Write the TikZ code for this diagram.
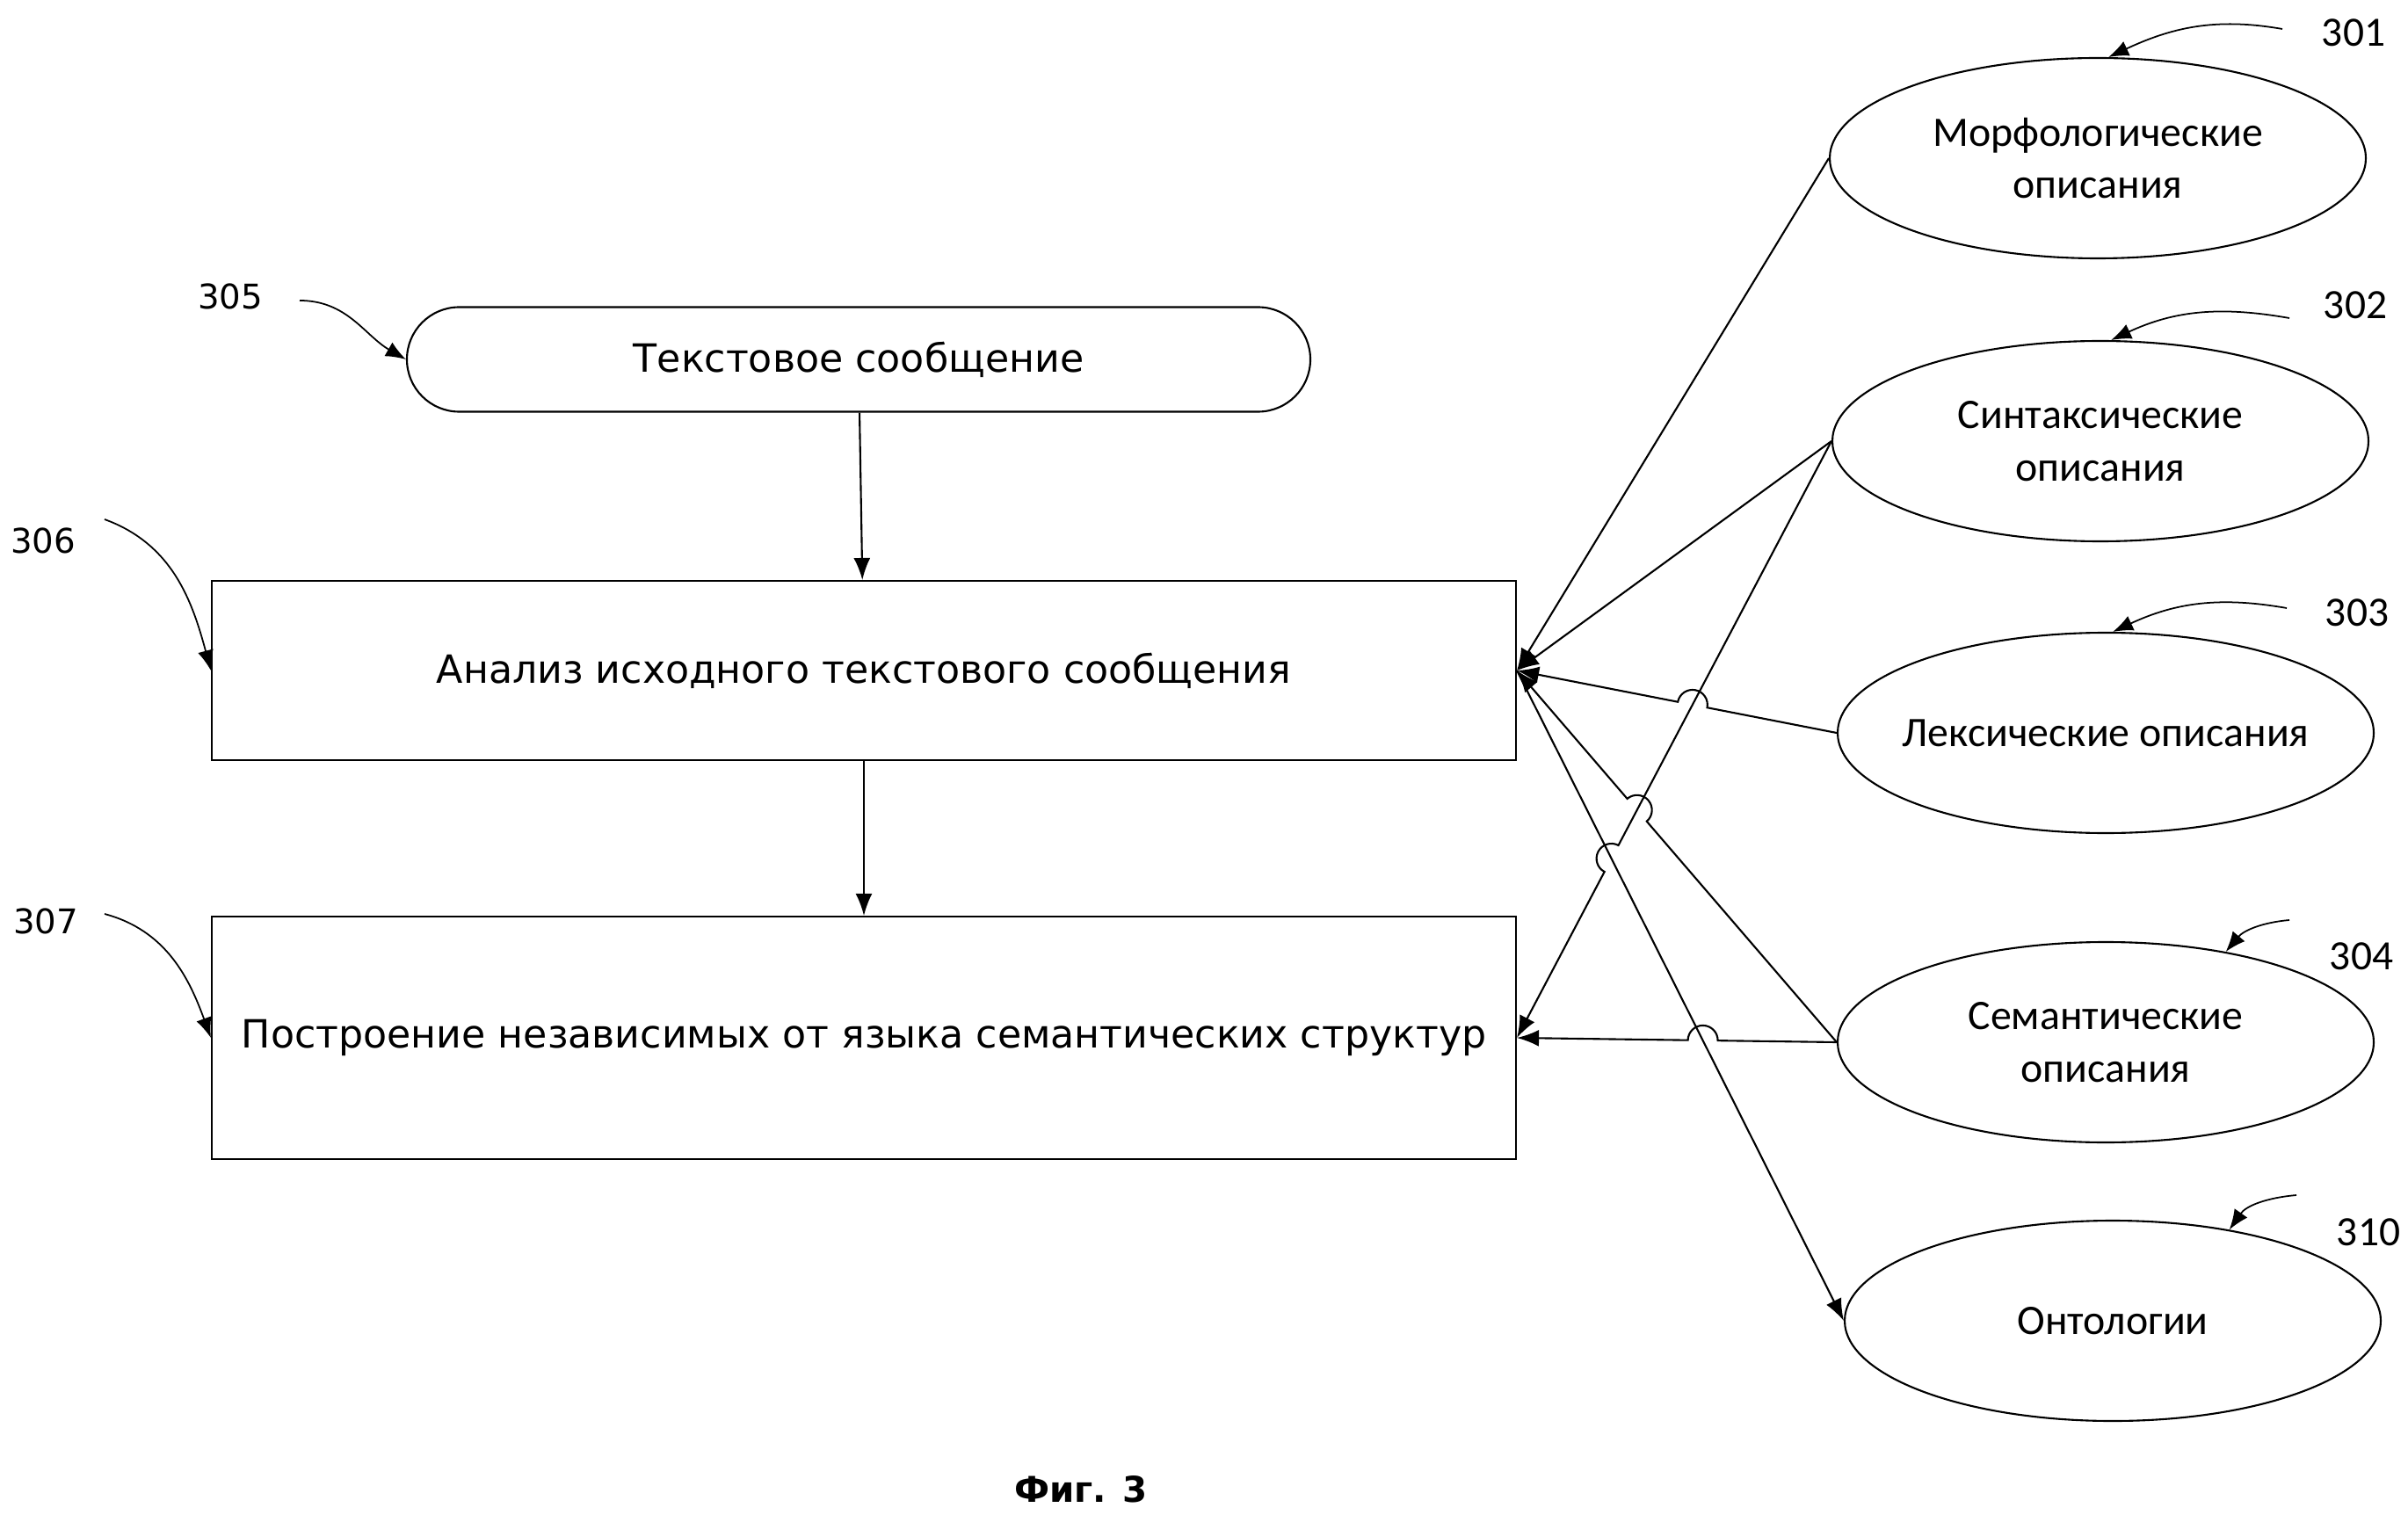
\documentclass[tikz,border=0pt]{standalone}
\usepackage{fontspec}
\setmainfont{DejaVu Sans}
\newfontfamily\calib{Carlito}
\usetikzlibrary{arrows.meta,positioning,shapes.geometric,calc,intersections}
\tikzset{
  ar/.style={-{Latex[length=2.5mm,width=1.9mm]},line width=0.6pt},
  lead/.style={-{Latex[length=2.3mm,width=1.8mm]},line width=0.5pt},
  blk/.style={draw,line width=0.6pt,minimum width=14.84cm,align=center,font=\fontsize{12.6}{15}\selectfont},
  src/.style={ellipse,draw,line width=0.6pt,minimum width=6.1cm,minimum height=2.28cm,inner sep=0pt,align=center,font=\calib\fontsize{13.6}{17}\selectfont},
  num/.style={font=\calib\fontsize{13.5}{16}\selectfont},
  lnum/.style={font=\fontsize{11}{13}\selectfont}
}
\newcommand{\jr}{0.17cm}
\begin{document}
\begin{tikzpicture}
\useasboundingbox (0,0) rectangle (27.4,-17.24);
% blocks
\node[blk,rounded corners=0.595cm,minimum width=10.28cm,minimum height=1.19cm] (b305) at (9.77,-4.09) {Текстовое сообщение};
\node[blk,minimum height=2.04cm] (b306) at (9.83,-7.63) {Анализ исходного текстового сообщения};
\node[blk,minimum height=2.76cm] (b307) at (9.83,-11.81) {Построение независимых от языка семантических структур};
% descriptions
\node[src] (s1) at (23.87,-1.80) {Морфологические\\описания};
\node[src] (s2) at (23.90,-5.02) {Синтаксические\\описания};
\node[src,inner xsep=-0.35cm] (s3) at (23.96,-8.34) {Лексические описания};
\node[src] (s4) at (23.96,-11.86) {Семантические\\описания};
\node[src] (s10) at (24.04,-15.03) {Онтологии};
% numbers
\node[lnum] (l305) at (2.62,-3.37) {305};
\node[lnum] (l306) at (0.49,-6.15) {306};
\node[lnum] (l307) at (0.52,-10.48) {307};
\node[num] (l301) at (26.78,-0.37) {301};
\node[num] (l302) at (26.80,-3.47) {302};
\node[num] (l303) at (26.82,-6.97) {303};
\node[num] (l304) at (26.87,-10.88) {304};
\node[num] (l310) at (26.95,-14.02) {310};
\node[font=\bfseries\fontsize{11.5}{14}\selectfont] (fig) at (12.30,-16.95) {Фиг. 3};
% leader starts
\coordinate (t305) at (3.41,-3.42);
\coordinate (t306) at (1.19,-5.91);
\coordinate (t307) at (1.19,-10.40);
\coordinate (t301) at (25.97,-0.33);
\coordinate (t302) at (26.05,-3.62);
\coordinate (t303) at (26.02,-6.92);
\coordinate (t304) at (26.05,-10.47);
\coordinate (t310) at (26.13,-13.60);
% leaders
\draw[lead] (t305) to[out=0,in=150] (b305.west);
\draw[lead] (t306) to[out=-20,in=105] (b306.west);
\draw[lead] (t307) to[out=-15,in=110] (b307.west);
\draw[lead] (t301) to[out=170,in=25] (s1.84);
\draw[lead] (t302) to[out=170,in=25] (s2.84);
\draw[lead] (t303) to[out=170,in=25] (s3.86);
\draw[lead] (t304) to[out=185,in=50] (s4.37);
\draw[lead] (t310) to[out=185,in=55] (s10.38);
% flow
\draw[ar] (b305) -- (b306);
\draw[ar] (b306) -- (b307);
% crossings
\path[name path=l27] (s2.west) -- (b307.east);
\path[name path=l610] (b306.east) -- (s10.west);
\path[name path=l36] (s3.west) -- (b306.east);
\path[name path=l46] (s4.west) -- (b306.east);
\path[name path=l47] (s4.west) -- (b307.east);
\path[name intersections={of=l27 and l36,by=x1}];
\path[name intersections={of=l27 and l46,by=x2}];
\path[name intersections={of=l27 and l610,by=x3}];
\path[name intersections={of=l47 and l610,by=x4}];
% links
\draw[ar] (s1.west) -- (b306.east);
\draw[ar] (s2.west) -- (b306.east);
\draw[ar] let \p1=($(s3.west)-(x1)$), \n1={atan2(\y1,\x1)} in
  (s3.west) -- ($(x1)!\jr!(s3.west)$) arc[start angle=\n1,delta angle=180,radius=\jr] -- (b306.east);
\draw[ar] let \p1=($(s4.west)-(x2)$), \n1={atan2(\y1,\x1)} in
  (s4.west) -- ($(x2)!\jr!(s4.west)$) arc[start angle=\n1,delta angle=180,radius=\jr] -- (b306.east);
\draw[ar] let \p1=($(s2.west)-(x3)$), \n1={atan2(\y1,\x1)} in
  (s2.west) -- ($(x3)!\jr!(s2.west)$) arc[start angle=\n1,delta angle=180,radius=\jr] -- (b307.east);
\draw[ar] let \p1=($(s4.west)-(x4)$), \n1={atan2(\y1,\x1)} in
  (s4.west) -- ($(x4)!\jr!(s4.west)$) arc[start angle=\n1,delta angle=180,radius=\jr] -- (b307.east);
\draw[ar] (b306.east) -- (s10.west);
\end{tikzpicture}
\end{document}
